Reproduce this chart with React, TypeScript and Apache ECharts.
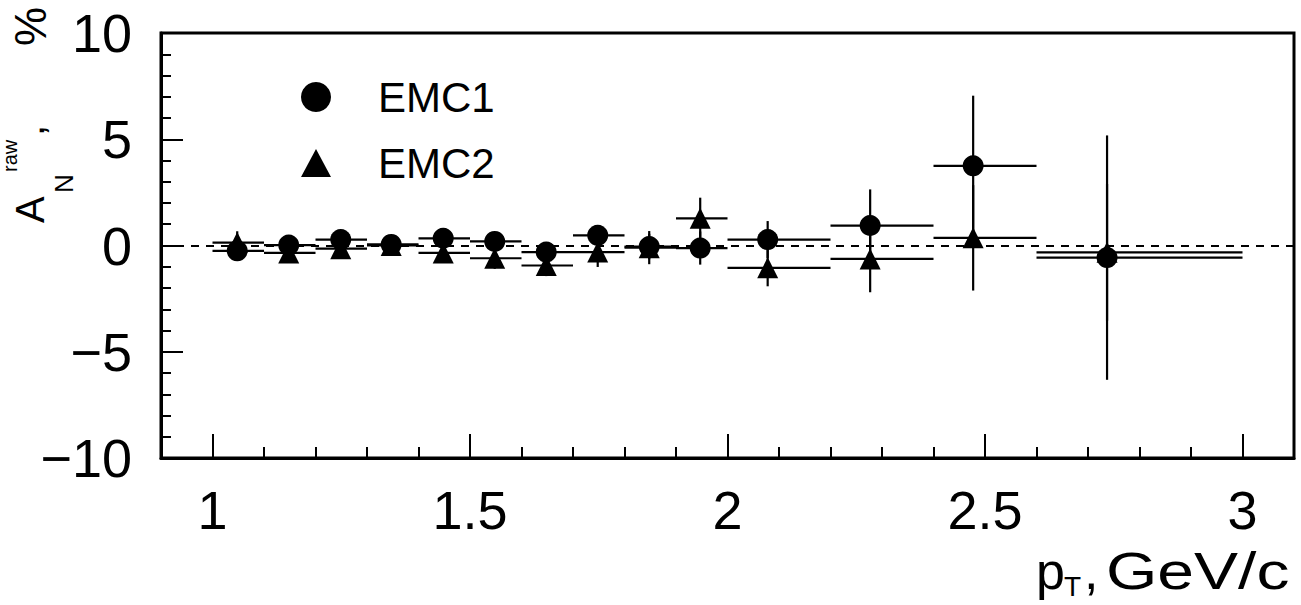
import React, { useEffect, useRef } from "react";
import * as echarts from "echarts";

// pT bins (GeV/c) and mean pT of each bin
const binLow = [1.0, 1.1, 1.2, 1.3, 1.4, 1.5, 1.6, 1.7, 1.8, 1.9, 2.0, 2.2, 2.4, 2.6];
const binHigh = [1.1, 1.2, 1.3, 1.4, 1.5, 1.6, 1.7, 1.8, 1.9, 2.0, 2.2, 2.4, 2.6, 3.0];
const ptMean = [1.048, 1.148, 1.249, 1.347, 1.448, 1.548, 1.648, 1.748, 1.848, 1.947, 2.078, 2.277, 2.477, 2.737];

// A_N raw, %
const emc1 = [-0.25, 0.02, 0.28, 0.05, 0.34, 0.19, -0.31, 0.48, -0.05, -0.12, 0.28, 0.94, 3.75, -0.57];
const emc1Err = [0.35, 0.35, 0.35, 0.35, 0.4, 0.4, 0.4, 0.45, 0.6, 0.78, 0.87, 1.7, 3.3, 5.75];
const emc2 = [0.14, -0.35, -0.15, 0.0, -0.35, -0.6, -0.94, -0.31, -0.1, 1.28, -1.05, -0.63, 0.36, -0.32];
const emc2Err = [0.53, 0.4, 0.45, 0.4, 0.45, 0.5, 0.5, 0.7, 0.78, 0.97, 0.87, 1.57, 2.48, 3.22];

const seriesNames = ["EMC1", "EMC2"];
const xMajorTicks = [1, 1.5, 2, 2.5, 3];
const xMinorTicks = [1.1, 1.2, 1.3, 1.4, 1.6, 1.7, 1.8, 1.9, 2.1, 2.2, 2.3, 2.4, 2.6, 2.7, 2.8, 2.9];

const FONT = '"Liberation Sans", Arial, sans-serif';

function errData(vals: number[], errs: number[]) {
  return vals.map((v, i) => [ptMean[i], v, binLow[i], binHigh[i], errs[i]]);
}

function errorRender(params: any, api: any) {
  const x = api.value(0);
  const y = api.value(1);
  const lo = api.value(2);
  const hi = api.value(3);
  const e = api.value(4);
  const pL = api.coord([lo, y]);
  const pR = api.coord([hi, y]);
  const pT = api.coord([x, y + e]);
  const pB = api.coord([x, y - e]);
  const style = { stroke: "#000", lineWidth: 2.2 };
  return {
    type: "group",
    children: [
      { type: "line", shape: { x1: pL[0], y1: pL[1], x2: pR[0], y2: pR[1] }, style },
      { type: "line", shape: { x1: pT[0], y1: pT[1], x2: pB[0], y2: pB[1] }, style },
    ],
  };
}

function txt(text: string, x: number, y: number, size: number, extra: any = {}) {
  return {
    type: "text",
    x,
    y,
    ...extra,
    style: {
      text,
      fontSize: size,
      fontFamily: FONT,
      fill: "#000",
      align: "left",
      verticalAlign: "middle",
      textAlign: "left",
      textVerticalAlign: "middle",
    },
  };
}

export default function App() {
  const ref = useRef<HTMLDivElement>(null);
  useEffect(() => {
    document.body.style.margin = "0";
    const chart = echarts.init(ref.current!, null, { renderer: "svg" });
    const tickStyle = { color: "#000", width: 2 };
    const option: any = {
      animation: false,
      backgroundColor: "#fff",
      grid: {
        left: 161,
        right: 7,
        top: 33,
        bottom: 147,
        show: true,
        borderColor: "#000",
        borderWidth: 3,
        backgroundColor: "transparent",
      },
      xAxis: [
        {
          type: "value",
          min: 0.9,
          max: 3.1,
          position: "bottom",
          axisLine: { show: true, onZero: false, lineStyle: { color: "#000", width: 3 } },
          axisTick: { show: true, inside: true, length: 24, lineStyle: tickStyle, customValues: xMajorTicks },
          axisLabel: {
            show: true,
            customValues: xMajorTicks,
            fontSize: 54,
            fontFamily: FONT,
            color: "#000",
            margin: 25,
            formatter: (v: number) => String(v),
          },
          splitLine: { show: false },
        },
        {
          type: "value",
          min: 0.9,
          max: 3.1,
          position: "bottom",
          axisLine: { show: false, onZero: false },
          axisTick: { show: true, inside: true, length: 11, lineStyle: tickStyle, customValues: xMinorTicks },
          axisLabel: { show: false },
          splitLine: { show: false },
        },
      ],
      yAxis: {
        type: "value",
        min: -10,
        max: 10,
        interval: 5,
        axisLine: { show: true, onZero: false, lineStyle: { color: "#000", width: 3 } },
        axisTick: { show: true, inside: true, length: 22, lineStyle: tickStyle },
        minorTick: { show: true, splitNumber: 5, length: 10, lineStyle: tickStyle },
        axisLabel: {
          fontSize: 54,
          fontFamily: FONT,
          color: "#000",
          margin: 29,
          formatter: (v: number) => (v < 0 ? "\u2212" + Math.abs(v) : String(v)),
        },
        splitLine: { show: false },
        minorSplitLine: { show: false },
      },
      series: [
        {
          name: "EMC1 errors",
          type: "custom",
          xAxisIndex: 0,
          renderItem: errorRender,
          encode: { x: 0, y: 1 },
          data: errData(emc1, emc1Err),
          z: 2,
        },
        {
          name: "EMC2 errors",
          type: "custom",
          xAxisIndex: 0,
          renderItem: errorRender,
          encode: { x: 0, y: 1 },
          data: errData(emc2, emc2Err),
          z: 2,
        },
        {
          name: seriesNames[1],
          type: "scatter",
          xAxisIndex: 0,
          symbol: "triangle",
          symbolSize: 21,
          itemStyle: { color: "#000", opacity: 1 },
          data: emc2.map((v, i) => [ptMean[i], v]),
          z: 3,
        },
        {
          name: seriesNames[0],
          type: "scatter",
          xAxisIndex: 0,
          symbol: "circle",
          symbolSize: 21,
          itemStyle: { color: "#000", opacity: 1 },
          data: emc1.map((v, i) => [ptMean[i], v]),
          z: 4,
          markLine: {
            silent: true,
            symbol: "none",
            label: { show: false },
            lineStyle: { color: "#000", type: [8, 7], width: 2, opacity: 1 },
            emphasis: { disabled: true },
            data: [{ yAxis: 0 }],
          },
        },
      ],
      graphic: [
        // legend
        { type: "circle", shape: { cx: 316, cy: 97, r: 15 }, style: { fill: "#000" } },
        { type: "polygon", shape: { points: [[316, 149], [301, 177], [331, 177]] }, style: { fill: "#000" } },
        txt(seriesNames[0], 378, 97, 42),
        txt(seriesNames[1], 378, 163, 42),
        // y axis title (rotated)
        txt("A", 30, 223, 40, { rotation: Math.PI / 2 }),
        txt("N", 64, 193, 26, { rotation: Math.PI / 2 }),
        txt("raw", 10, 172, 20, { rotation: Math.PI / 2 }),
        txt(",", 30, 136, 40, { rotation: Math.PI / 2 }),
        txt("%", 30, 46, 44, { rotation: Math.PI / 2 }),
        // x axis title
        txt("p", 1036, 571, 52),
        txt("T", 1064, 586, 28),
        txt(",", 1084, 571, 52),
        txt("GeV/c", 1106, 571, 52, { scaleX: 1.27 }),
      ],
    };
    chart.setOption(option);
    return () => chart.dispose();
  }, []);
  return (
    <div
      ref={ref}
      style={{ position: "absolute", left: 0, top: 0, width: 1301, height: 605, background: "#fff" }}
    />
  );
}
